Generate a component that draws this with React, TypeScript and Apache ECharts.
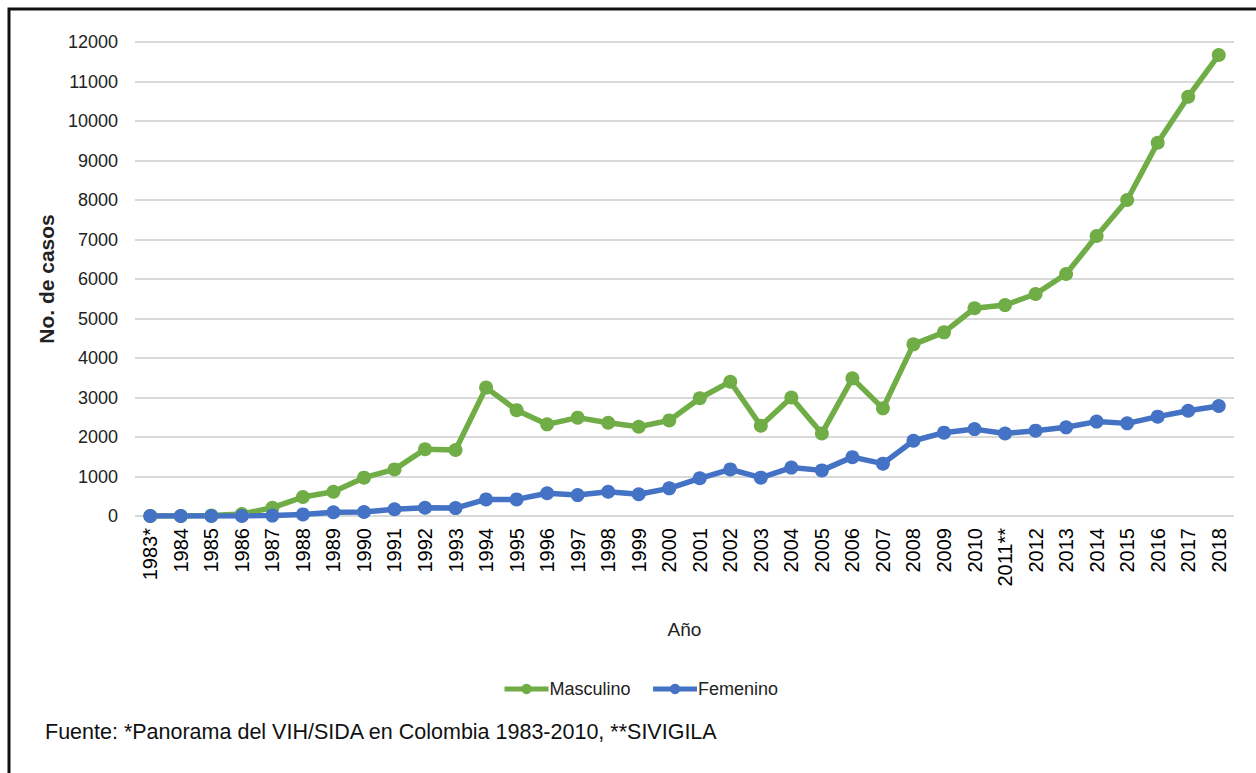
import React, { useEffect, useRef } from "react";
import * as echarts from "echarts";

const years = ["1983*","1984","1985","1986","1987","1988","1989","1990","1991","1992","1993","1994","1995","1996","1997","1998","1999","2000","2001","2002","2003","2004","2005","2006","2007","2008","2009","2010","2011**","2012","2013","2014","2015","2016","2017","2018"];
const masculino = [0,0,10,50,210,480,615,970,1180,1690,1670,3250,2680,2320,2490,2360,2260,2420,2980,3400,2285,3000,2090,3485,2725,4345,4650,5260,5340,5620,6125,7090,8000,9450,10615,11670];
const femenino = [0,0,0,0,10,40,95,100,170,210,200,420,420,575,530,615,550,700,955,1180,970,1225,1155,1490,1325,1905,2110,2200,2090,2160,2245,2390,2345,2515,2665,2785];
const yTicks = { min: 0, max: 12000, interval: 1000 };
const sourceText = "Fuente: *Panorama del VIH/SIDA en Colombia 1983-2010, **SIVIGILA";

const SANS = '"Liberation Sans", Arial, sans-serif';

export default function App() {
  const ref = useRef<HTMLDivElement>(null);
  useEffect(() => {
    if (!ref.current) return;
    const chart = echarts.init(ref.current, undefined, { renderer: "svg" });
    chart.setOption({
      animation: false,
      backgroundColor: "#fff",
      grid: { left: 135, right: 22, top: 42, bottom: 257, containLabel: false },
      legend: {
        left: 497,
        top: 675,
        itemWidth: 44,
        itemHeight: 13,
        itemGap: 20,
        lineStyle: { width: 5 },
        textStyle: { fontFamily: SANS, fontSize: 18, color: "#222", padding: [0, 0, 0, -4] },
        data: ["Masculino", "Femenino"],
      },
      xAxis: {
        type: "category",
        data: years,
        boundaryGap: true,
        name: "Año",
        nameLocation: "middle",
        nameGap: 104,
        nameTextStyle: { fontFamily: SANS, fontSize: 19, color: "#222" },
        axisLine: { show: false },
        axisTick: { show: false },
        axisLabel: {
          rotate: 90,
          interval: 0,
          margin: 12,
          fontFamily: SANS,
          fontSize: 20,
          color: "#000",
        },
      },
      yAxis: {
        type: "value",
        min: yTicks.min,
        max: yTicks.max,
        interval: yTicks.interval,
        name: "No. de casos",
        nameLocation: "middle",
        nameGap: 70,
        nameRotate: 90,
        nameTextStyle: { fontFamily: SANS, fontSize: 21, fontWeight: "bold", color: "#222" },
        axisLine: { show: false },
        axisTick: { show: false },
        axisLabel: {
          fontFamily: SANS,
          fontSize: 18,
          color: "#222",
          margin: 17,
          formatter: (v: number) => String(v),
        },
        splitLine: { lineStyle: { color: "#d9d9d9", width: 2 } },
      },
      series: [
        {
          name: "Masculino",
          type: "line",
          data: masculino,
          symbol: "circle",
          symbolSize: 14,
          lineStyle: { color: "#70AD47", width: 5.5 },
          itemStyle: { color: "#70AD47" },
        },
        {
          name: "Femenino",
          type: "line",
          data: femenino,
          symbol: "circle",
          symbolSize: 14,
          lineStyle: { color: "#4472C4", width: 5.5 },
          itemStyle: { color: "#4472C4" },
        },
      ],
      graphic: [
        {
          type: "polyline",
          shape: { points: [[9, 773], [9, 9], [1256, 9]] },
          style: { stroke: "#111", lineWidth: 3, fill: "none" },
          silent: true,
        },
        {
          type: "text",
          left: 45,
          top: 721,
          style: { text: sourceText, fontFamily: SANS, fontSize: 21.5, fill: "#111" },
        },
      ],
    });
    return () => chart.dispose();
  }, []);
  return (
    <div style={{ position: "absolute", left: 0, top: 0, width: 1256, height: 773, overflow: "hidden" }}>
      <div ref={ref} style={{ width: 1256, height: 773 }} />
    </div>
  );
}
